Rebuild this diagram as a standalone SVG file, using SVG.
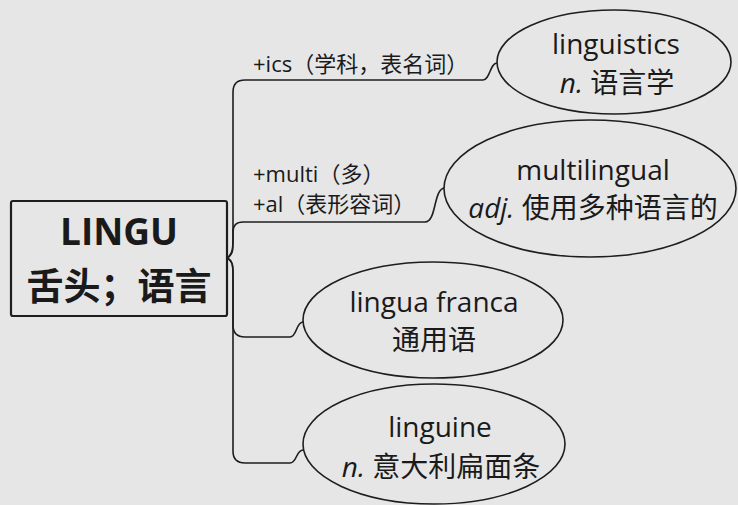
<svg xmlns="http://www.w3.org/2000/svg" width="738" height="505" viewBox="0 0 738 505">
<style>
.t{font-family:"Open Sans","Noto Sans CJK SC",sans-serif;fill:#1a1a1a;}
.node{fill:#e6e6e6;stroke:#1e1e1e;stroke-width:1.6;}
.root{fill:#e6e6e6;stroke:#1e1e1e;stroke-width:2.2;}
.c{fill:none;stroke:#1e1e1e;stroke-width:1.6;}
.lbl{font-size:22px;}
.big{font-size:28px;text-anchor:middle;}
.rt{font-size:37px;font-weight:bold;text-anchor:middle;}
</style>
<rect width="738" height="505" fill="#e6e6e6"/>
<g id="connectors">
<path class="c" d="M227,258 C233,255 233,250 233,240 L233,92 Q233,80 245,80 L483,80 C490,80 490,63 497,63"/>
<path class="c" d="M227,258 C233,254 233,248 233,236 L233,232 Q233,222 243,222 L425,222 C437,222 433,188 445,188"/>
<path class="c" d="M227,258 C233,261 233,266 233,276 L233,325 Q233,337 245,337 L290,337 C297,337 296,322 303,322"/>
<path class="c" d="M227,258 C233,261 233,266 233,276 L233,451 Q233,463 245,463 L290,463 C297,463 296,450 303,450"/>
<text class="t lbl" x="253" y="72">+ics（学科，表名词）</text>
<text class="t lbl" x="253" y="182">+multi（多）</text>
<text class="t lbl" x="253" y="212">+al（表形容词）</text>
</g>
<g id="root">
<rect class="root" x="11" y="201" width="216" height="115" rx="2"/>
<text class="t rt" x="119" y="245">LINGU</text>
<text class="t rt" x="119" y="300">舌头；语言</text>
</g>
<g id="linguistics">
<ellipse class="node" cx="614" cy="62" rx="117" ry="52"/>
<text class="t big" x="616" y="54">linguistics</text>
<text class="t big" x="617" y="93"><tspan font-style="italic">n.</tspan> 语言学</text>
</g>
<g id="multilingual">
<ellipse class="node" cx="590" cy="188.5" rx="146" ry="68.5"/>
<text class="t big" x="593" y="180">multilingual</text>
<text class="t big" x="593" y="218"><tspan font-style="italic">adj.</tspan> 使用多种语言的</text>
</g>
<g id="lingua-franca">
<ellipse class="node" cx="433" cy="320" rx="130" ry="58"/>
<text class="t big" x="434" y="312">lingua franca</text>
<text class="t big" x="434" y="350">通用语</text>
</g>
<g id="linguine">
<ellipse class="node" cx="434" cy="444" rx="131" ry="60"/>
<text class="t big" x="440" y="437">linguine</text>
<text class="t big" x="441" y="477"><tspan font-style="italic">n.</tspan> 意大利扁面条</text>
</g>
</svg>
